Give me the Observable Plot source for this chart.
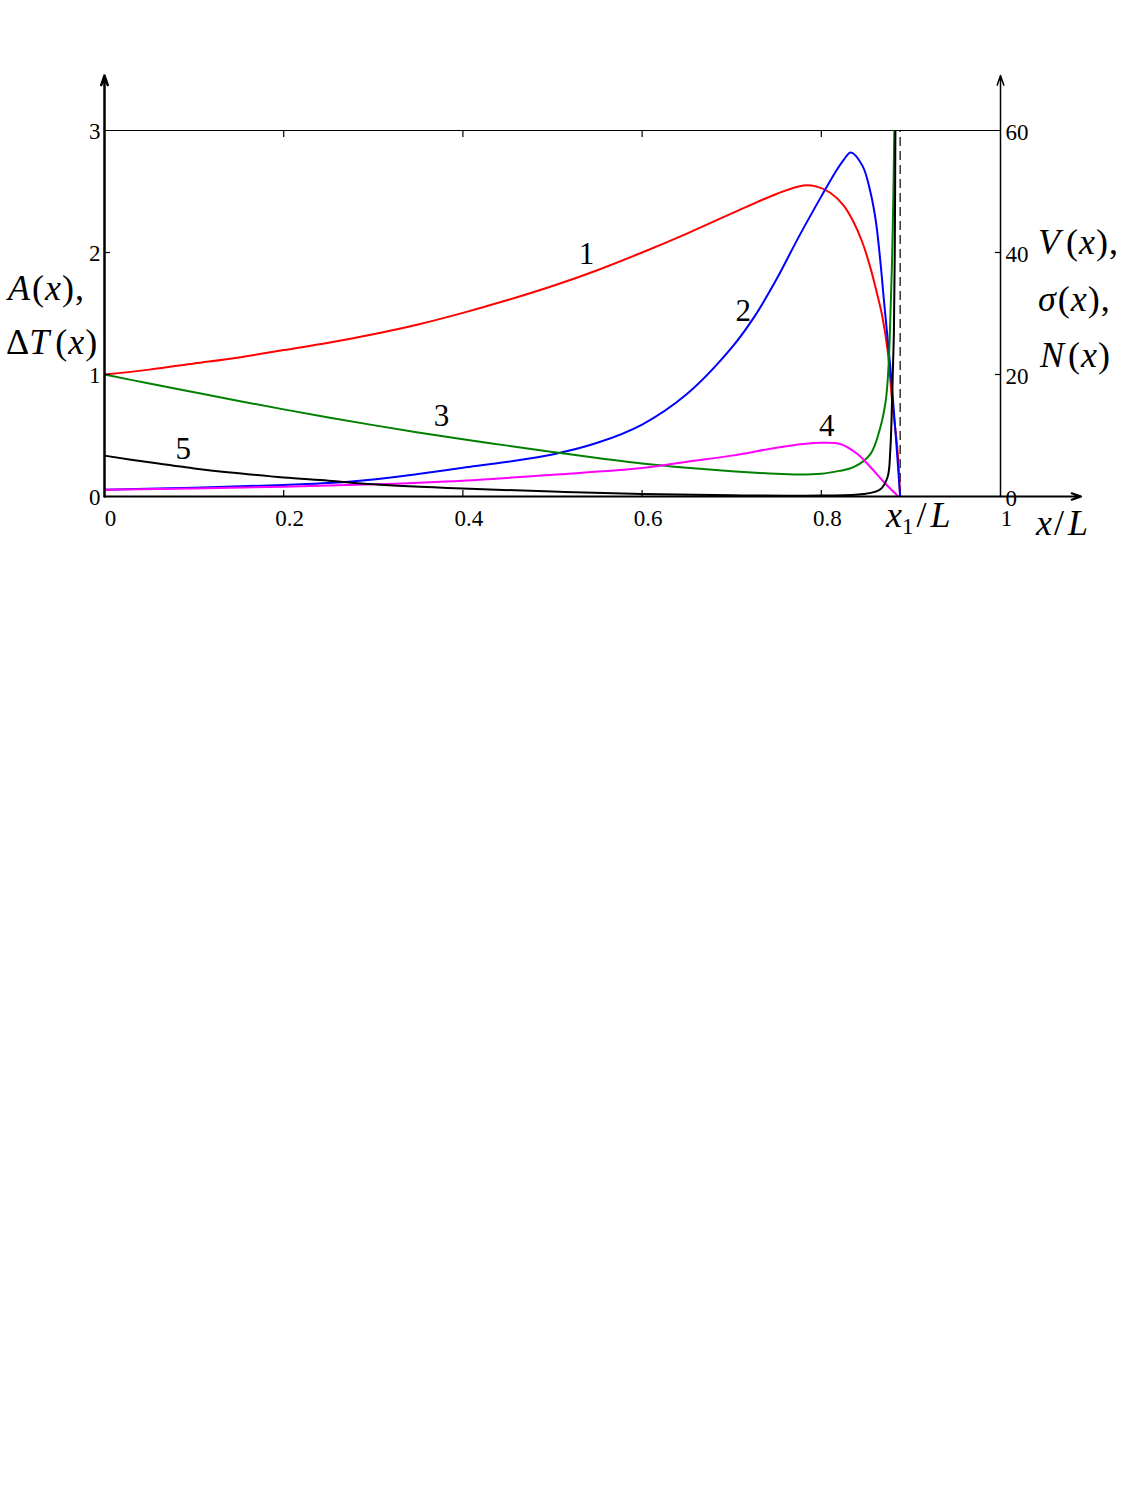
<!DOCTYPE html>
<html>
<head>
<meta charset="utf-8">
<script src="https://cdn.jsdelivr.net/npm/d3@7"></script>
<script src="https://cdn.jsdelivr.net/npm/@observablehq/plot@0.6"></script>
<style>
  html, body { margin: 0; padding: 0; background: #fff; }
  #chart { width: 1125px; }
</style>
</head>
<body>
<div id="chart"></div>
<script>
// ---- Data (left-axis units; right axis = 20 × left) ----
// Curve 1 (red)
const xRed = [0, 0.05, 0.1, 0.15, 0.2, 0.25, 0.3, 0.35, 0.4, 0.45, 0.5, 0.55, 0.6, 0.65, 0.7, 0.75, 0.78, 0.795, 0.81, 0.825, 0.836, 0.846, 0.855, 0.862, 0.868, 0.874, 0.879, 0.885, 0.888];
const yRed = [1.0, 1.04, 1.09, 1.14, 1.2, 1.26, 1.33, 1.41, 1.505, 1.61, 1.725, 1.855, 2.0, 2.155, 2.32, 2.48, 2.55, 2.54, 2.49, 2.385, 2.25, 2.08, 1.87, 1.67, 1.48, 1.2, 0.79, 0.38, 0.0];
// Curve 2 (blue)
const xBlue = [0, 0.1, 0.2, 0.25, 0.3, 0.35, 0.4, 0.45, 0.5, 0.55, 0.6, 0.65, 0.7, 0.725, 0.75, 0.775, 0.8, 0.815, 0.825, 0.833, 0.846, 0.855, 0.861, 0.866, 0.87, 0.877, 0.883, 0.888];
const yBlue = [0.055, 0.072, 0.095, 0.11, 0.14, 0.185, 0.235, 0.285, 0.345, 0.44, 0.59, 0.84, 1.22, 1.47, 1.78, 2.13, 2.46, 2.65, 2.76, 2.82, 2.71, 2.49, 2.25, 1.92, 1.6, 1.06, 0.51, 0.0];
// Curve 3 (green)
const xGreen = [0, 0.05, 0.1, 0.15, 0.2, 0.25, 0.3, 0.35, 0.4, 0.45, 0.5, 0.55, 0.6, 0.65, 0.7, 0.75, 0.77, 0.8, 0.82, 0.836, 0.855, 0.866, 0.872, 0.875, 0.877, 0.879, 0.8805, 0.8815, 0.883];
const yGreen = [1.0, 0.926, 0.854, 0.783, 0.714, 0.648, 0.585, 0.525, 0.469, 0.417, 0.365, 0.315, 0.27, 0.235, 0.207, 0.186, 0.18, 0.186, 0.21, 0.24, 0.35, 0.57, 0.79, 1.06, 1.45, 1.95, 2.5, 3.0, 3.6];
// Curve 4 (magenta)
const xMagenta = [0, 0.1, 0.2, 0.3, 0.4, 0.5, 0.6, 0.65, 0.7, 0.75, 0.78, 0.8, 0.821, 0.84, 0.855, 0.87, 0.886];
const yMagenta = [0.055, 0.065, 0.08, 0.1, 0.13, 0.178, 0.233, 0.285, 0.335, 0.4, 0.43, 0.44, 0.43, 0.35, 0.24, 0.117, 0.0];
// Curve 5 (black)
const xBlack = [0, 0.05, 0.1, 0.15, 0.2, 0.25, 0.3, 0.4, 0.5, 0.6, 0.7, 0.8, 0.847, 0.866, 0.874, 0.877, 0.879, 0.881, 0.882, 0.8827, 0.8835];
const yBlack = [0.335, 0.28, 0.23, 0.19, 0.155, 0.13, 0.1, 0.065, 0.04, 0.02, 0.01, 0.008, 0.02, 0.06, 0.16, 0.38, 0.79, 1.33, 2.0, 3.0, 3.6];

// Boundary x1/L (dashed line)
const xBoundary = [0.888];

// Curve number labels
const curveNames = ["1", "2", "3", "4", "5"];
const curveLabelX = [0.538, 0.713, 0.376, 0.806, 0.088];
const curveLabelY = [1.99, 1.52, 0.66, 0.58, 0.385];

// Ticks
const xTickValues = [0, 0.2, 0.4, 0.6, 0.8, 1];
const xInnerTicks = [0.2, 0.4, 0.6, 0.8];
const yLeftTicks = [0, 1, 2, 3];
const yRightFactor = 20; // right axis labels 0, 20, 40, 60

// ---- Build tables ----
const series = [
  {name: "1", color: "#ff0000", xs: xRed, ys: yRed},
  {name: "2", color: "#0000ff", xs: xBlue, ys: yBlue},
  {name: "3", color: "#008000", xs: xGreen, ys: yGreen},
  {name: "4", color: "#ff00ff", xs: xMagenta, ys: yMagenta},
  {name: "5", color: "#000000", xs: xBlack, ys: yBlack}
];
const rows = series.flatMap(s => s.xs.map((x, i) => ({series: s.name, x, y: s.ys[i]})));
const labels = curveNames.map((t, i) => ({t, x: curveLabelX[i], y: curveLabelY[i]}));

const xMax = 1, yMax = 3;
const axisLines = [
  {x1: 0, y1: 0, x2: 0, y2: yMax * 1.15, w: 2.5},
  {x1: xMax, y1: 0, x2: xMax, y2: yMax * 1.15, w: 1.5},
  {x1: 0, y1: 0, x2: xMax * 1.09, y2: 0, w: 2}
];

const serif = "'Liberation Serif', 'Times New Roman', Times, serif";

const plot = Plot.plot({
  width: 1125,
  height: 580,
  marginLeft: 104,
  marginRight: 125,
  marginTop: 130,
  marginBottom: 84,
  style: {fontFamily: serif, fontSize: "23px", color: "#000", background: "transparent", overflow: "visible"},
  x: {domain: [0, xMax]},
  y: {domain: [0, yMax]},
  color: {domain: series.map(s => s.name), range: series.map(s => s.color)},
  marks: [
    // top frame line
    Plot.ruleY([yMax], {x1: 0, x2: xMax, stroke: "#000", strokeWidth: 1.2}),
    // dashed boundary line
    Plot.ruleX(xBoundary, {y1: 0, y2: yMax, stroke: "#000", strokeWidth: 1.2, strokeDasharray: "9,5"}),
    // curves
    Plot.line(rows, {x: "x", y: "y", z: "series", stroke: "series", strokeWidth: 2, curve: "catmull-rom", clip: "frame"}),
    // axis lines with arrows
    Plot.arrow(axisLines, {x1: "x1", y1: "y1", x2: "x2", y2: "y2", stroke: "#000", strokeWidth: "w", headLength: 15, headAngle: 38}),
    // inner ticks
    Plot.axisX(xInnerTicks, {anchor: "bottom", tickSize: -6, tickFormat: () => "", label: null, strokeWidth: 1.2}),
    Plot.axisX(xInnerTicks, {anchor: "top", tickSize: -6, tickFormat: () => "", label: null, strokeWidth: 1.2}),
    Plot.axisY([1, 2], {anchor: "left", tickSize: -6, tickFormat: () => "", label: null, strokeWidth: 1.2}),
    Plot.axisY([1, 2], {anchor: "right", tickSize: -6, tickFormat: () => "", label: null, strokeWidth: 1.2}),
    // tick labels
    Plot.axisX(xTickValues, {anchor: "bottom", tickSize: 0, tickPadding: 13, dx: 6, label: null, fontSize: 23, tickFormat: d => String(d)}),
    Plot.axisY(yLeftTicks, {anchor: "left", tickSize: 0, tickPadding: 4, dy: 1, label: null, fontSize: 23, tickFormat: d => String(d)}),
    Plot.axisY(yLeftTicks, {anchor: "right", tickSize: 0, tickPadding: 5, dy: 2, label: null, fontSize: 23, tickFormat: d => String(d * yRightFactor)}),
    // curve number labels
    Plot.text(labels, {x: "x", y: "y", text: "t", fontSize: 31, fill: "#000"})
  ]
});

document.getElementById("chart").appendChild(plot);

// ---- Axis titles with mixed italic / upright math styling ----
const svg = d3.select(plot);
function mathText(x, y, parts, size = 36) {
  const t = svg.append("text")
    .attr("x", x).attr("y", y)
    .attr("text-anchor", "start")
    .attr("font-family", serif)
    .attr("font-size", size)
    .attr("fill", "#000");
  parts.forEach(p => {
    const ts = t.append("tspan").text(p.s);
    if (p.i) ts.attr("font-style", "italic");
    if (p.dx) ts.attr("dx", p.dx);
    if (p.dy) ts.attr("dy", p.dy);
    if (p.fs) ts.attr("font-size", p.fs);
  });
}
mathText(8, 300, [{s: "A", i: 1}, {s: "(", dx: 2}, {s: "x", i: 1, dx: 1}, {s: ")", dx: 1}, {s: ",", dx: 1}]);
mathText(6, 354, [{s: "Δ"}, {s: "T", i: 1}, {s: "(", dx: 6}, {s: "x", i: 1, dx: 1}, {s: ")", dx: 1}]);
mathText(1038, 254, [{s: "V", i: 1}, {s: "(", dx: 6}, {s: "x", i: 1, dx: 1}, {s: ")", dx: 1}, {s: ",", dx: 1}]);
mathText(1038, 311, [{s: "σ", i: 1}, {s: "(", dx: 2}, {s: "x", i: 1, dx: 1}, {s: ")", dx: 1}, {s: ",", dx: 1}]);
mathText(1040, 367, [{s: "N", i: 1}, {s: "(", dx: 4}, {s: "x", i: 1, dx: 1}, {s: ")", dx: 1}]);
mathText(886, 527, [{s: "x", i: 1}, {s: "1", fs: 23, dy: 7}, {s: "/", dy: -7, dx: 3}, {s: "L", i: 1, dx: 4}]);
mathText(1036, 535, [{s: "x", i: 1}, {s: "/", dx: 2}, {s: "L", i: 1, dx: 4}]);
</script>
</body>
</html>
